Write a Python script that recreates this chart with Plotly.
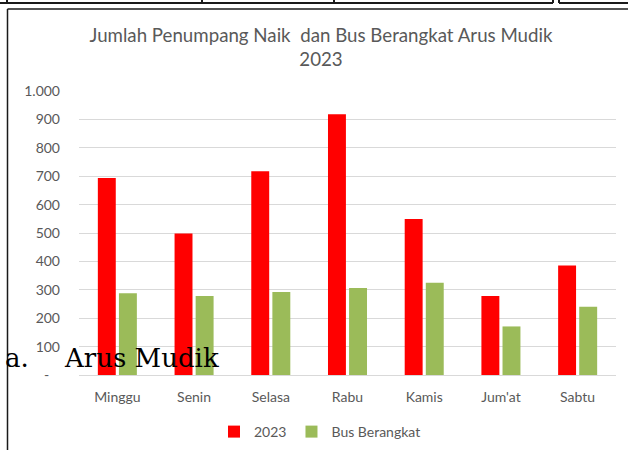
import plotly.graph_objects as go

categories = ["Minggu", "Senin", "Selasa", "Rabu", "Kamis", "Jum'at", "Sabtu"]
penumpang_2023 = [694, 498, 717, 918, 549, 278, 386]
bus_berangkat = [288, 278, 292, 306, 325, 171, 240]
y_tick_vals = [0, 100, 200, 300, 400, 500, 600, 700, 800, 900, 1000]
y_tick_text = ["-\u00a0\u00a0\u00a0", "100", "200", "300", "400", "500", "600", "700", "800", "900", "1.000"]

W, H = 628, 450
def px(x):
    return x / W
def py(y):
    return 1 - y / H

FONT = "Lato"
GRAY = "#595959"

fig = go.Figure()
fig.add_trace(go.Bar(name="2023", x=categories, y=penumpang_2023,
                     marker=dict(color="#FF0000", line=dict(width=0))))
fig.add_trace(go.Bar(name="Bus Berangkat", x=categories, y=bus_berangkat,
                     marker=dict(color="#9BBB59", line=dict(width=0))))

shapes = []
line_col = "#1a1a1a"
shapes.append(dict(type="line", xref="paper", yref="paper", x0=px(0), x1=px(553), y0=py(3), y1=py(3), line=dict(color=line_col, width=2)))
for xv in [7, 202, 334, 553]:
    shapes.append(dict(type="line", xref="paper", yref="paper", x0=px(xv), x1=px(xv), y0=py(0), y1=py(3), line=dict(color=line_col, width=2)))
shapes.append(dict(type="line", xref="paper", yref="paper", x0=px(559), x1=px(628), y0=py(3), y1=py(3), line=dict(color=line_col, width=2)))
shapes.append(dict(type="line", xref="paper", yref="paper", x0=px(559), x1=px(559), y0=py(0), y1=py(3), line=dict(color=line_col, width=2)))
shapes.append(dict(type="line", xref="paper", yref="paper", x0=px(7.5), x1=px(628), y0=py(9), y1=py(9), line=dict(color=line_col, width=1.5)))
shapes.append(dict(type="line", xref="paper", yref="paper", x0=px(7.5), x1=px(7.5), y0=py(9), y1=py(450), line=dict(color=line_col, width=1.5)))

fig.update_layout(
    template="none",
    width=W, height=H,
    margin=dict(l=0, r=0, t=0, b=0, pad=0, autoexpand=False),
    paper_bgcolor="white", plot_bgcolor="white",
    barmode="group", bargap=0.45, bargroupgap=0.15,
    separators=",.",
    font=dict(family=FONT, color=GRAY, size=14),
    title=dict(text="Jumlah Penumpang Naik  dan Bus Berangkat Arus Mudik<br>2023",
               x=px(321), xanchor="center", xref="paper",
               y=py(42), yanchor="top", yref="paper",
               font=dict(family=FONT, size=18.7, color=GRAY)),
    xaxis=dict(domain=[px(79), px(616)], showgrid=False, showline=False, automargin=False,
               ticks="", tickfont=dict(size=14, color=GRAY), ticklabelstandoff=12),
    yaxis=dict(domain=[py(375), py(91)], range=[0, 1000], automargin=False,
               tickvals=y_tick_vals, ticktext=y_tick_text,
               showgrid=True, gridcolor="#D9D9D9", gridwidth=1,
               zeroline=True, zerolinecolor="#D9D9D9", zerolinewidth=1,
               showline=False, ticks="", ticklabelstandoff=18,
               tickfont=dict(size=14, color=GRAY)),
    legend=dict(orientation="h", x=px(320), xanchor="center", y=py(432), yanchor="middle",
                font=dict(size=14, color=GRAY), itemwidth=30, traceorder="normal",
                bgcolor="rgba(0,0,0,0)"),
    shapes=shapes,
    annotations=[
        dict(text="a.", x=px(3), y=py(358), xref="paper", yref="paper", xanchor="left", yanchor="middle",
             showarrow=False, font=dict(family="DejaVu Serif", size=26, color="black")),
        dict(text="Arus Mudik", x=px(62), y=py(358), xref="paper", yref="paper", xanchor="left", yanchor="middle",
             showarrow=False, font=dict(family="DejaVu Serif", size=26, color="black")),
    ],
)

fig.write_html("out.html", config={"displayModeBar": False},
               post_script="document.body.style.margin='0';document.body.style.padding='0';")
